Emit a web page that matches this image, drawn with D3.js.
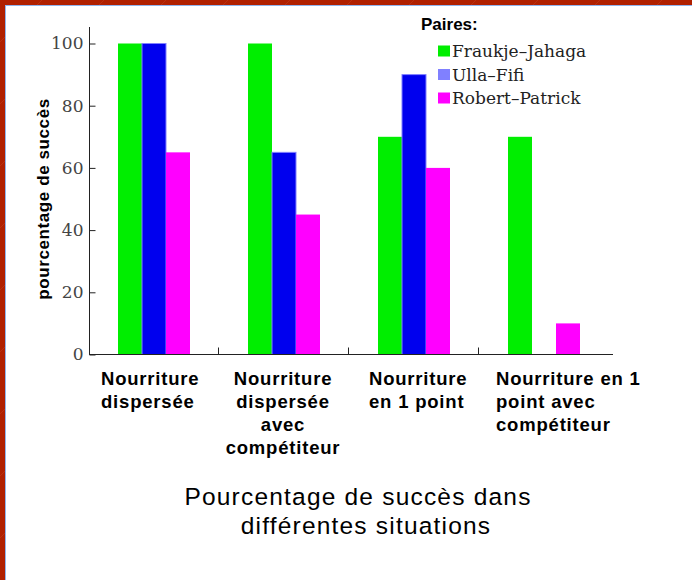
<!DOCTYPE html>
<html>
<head>
<meta charset="utf-8">
<script src="https://cdn.jsdelivr.net/npm/d3@7"></script>
<style>
  html, body { margin: 0; padding: 0; background: #b02000; }
  svg { display: block; }
</style>
</head>
<body>
<svg width="692" height="580"></svg>
<script>
var svg = d3.select("svg"),
    width = +svg.attr("width"),
    height = +svg.attr("height");

// data
var categories = ["disp", "dispComp", "point", "pointComp"];
var categoryLines = [
    ["Nourriture", "dispersée"],
    ["Nourriture", "dispersée", "avec", "compétiteur"],
    ["Nourriture", "en 1 point"],
    ["Nourriture en 1", "point avec", "compétiteur"]
];
var pairs = ["Fraukje–Jahaga", "Ulla–Fifi", "Robert–Patrick"];
var fraukjeJahaga = [100, 100, 70, 70];
var ullaFifi = [100, 65, 90, 0];
var robertPatrick = [65, 45, 60, 10];
var yTicks = [0, 20, 40, 60, 80, 100];

var series = [fraukjeJahaga, ullaFifi, robertPatrick];
var barColor = ["#00ee00", "#0000ee", "#ff00ff"];
var swatchColor = ["#00ee00", "#8080ff", "#ff00ff"];

// background frame
svg.append("rect")
    .attr("width", width).attr("height", height)
    .attr("fill", "#b02000");
var diag = svg.append("g").attr("stroke", "#c04020").attr("stroke-width", 1).attr("opacity", 0.5);
d3.range(-600, 800, 62).forEach(function(x0) {
    diag.append("line")
        .attr("x1", x0).attr("y1", height)
        .attr("x2", x0 + height).attr("y2", 0);
});
svg.append("rect")
    .attr("x", 5.5).attr("y", 5.5)
    .attr("width", width).attr("height", height)
    .attr("fill", "#ffffff")
    .attr("stroke", "#8fb4ee");

// scales
var x0 = d3.scaleBand().domain(categories).range([88, 608]);
var x1 = d3.scaleBand().domain(pairs).range([30, 102]);
var y = d3.scaleLinear().domain([0, 100]).range([354.5, 43.5]);

// bars
var groups = svg.append("g")
    .selectAll("g")
    .data(categories)
    .enter().append("g")
    .attr("transform", function(d) { return "translate(" + x0(d) + ",0)"; });

groups.selectAll("rect")
    .data(function(d, i) {
        return pairs.map(function(p, j) { return {pair: p, j: j, value: series[j][i]}; });
    })
    .enter().append("rect")
    .filter(function(d) { return d.value > 0; })
    .attr("x", function(d) { return x1(d.pair); })
    .attr("y", function(d) { return y(d.value); })
    .attr("width", x1.bandwidth())
    .attr("height", function(d) { return y(0) - y(d.value); })
    .attr("fill", function(d) { return barColor[d.j]; })
    .attr("stroke", function(d) { return d.j === 1 ? "#8080ff" : "none"; });

// y axis (ticks point inward)
var yAxis = svg.append("g")
    .attr("transform", "translate(89.5,0)")
    .call(d3.axisLeft(y).tickValues(yTicks).tickSize(-6).tickPadding(6));
yAxis.select(".domain").remove();
yAxis.selectAll(".tick line").attr("stroke", "#222");
yAxis.selectAll(".tick text")
    .attr("font-family", "DejaVu Serif")
    .attr("font-size", 17)
    .attr("fill", "#444");
yAxis.append("line")
    .attr("y1", 27).attr("y2", y(0))
    .attr("stroke", "#222");

svg.append("text")
    .attr("transform", "translate(49,199) rotate(-90)")
    .attr("text-anchor", "middle")
    .attr("font-family", "Liberation Sans")
    .attr("font-weight", "bold")
    .attr("font-size", 17)
    .attr("letter-spacing", 0.6)
    .text("pourcentage de succès");

// x axis with separators
svg.append("line")
    .attr("x1", 89).attr("x2", 613)
    .attr("y1", y(0)).attr("y2", y(0))
    .attr("stroke", "#222");
svg.append("g")
    .selectAll("line")
    .data(categories.slice(1))
    .enter().append("line")
    .attr("x1", function(d) { return x0(d) + 0.5; })
    .attr("x2", function(d) { return x0(d) + 0.5; })
    .attr("y1", y(0)).attr("y2", y(0) - 7)
    .attr("stroke", "#222");

// category labels
var labelOffset = [13, 65, 21, 18];
var labelAnchor = ["start", "middle", "start", "start"];
var labels = svg.append("g")
    .selectAll("text")
    .data(categories)
    .enter().append("text")
    .attr("x", function(d, i) { return x0(d) + labelOffset[i]; })
    .attr("y", 385)
    .attr("text-anchor", function(d, i) { return labelAnchor[i]; })
    .attr("font-family", "Liberation Sans")
    .attr("font-weight", "bold")
    .attr("font-size", 18.5)
    .attr("letter-spacing", 0.8);
labels.selectAll("tspan")
    .data(function(d, i) { return categoryLines[i]; })
    .enter().append("tspan")
    .attr("x", function() { return d3.select(this.parentNode).attr("x"); })
    .attr("dy", function(d, k) { return k === 0 ? 0 : 23; })
    .text(function(d) { return d; });

// legend
svg.append("text")
    .attr("x", 421).attr("y", 30)
    .attr("font-family", "Liberation Sans")
    .attr("font-weight", "bold")
    .attr("font-size", 17)
    .text("Paires:");
var legend = svg.append("g")
    .selectAll("g")
    .data(pairs)
    .enter().append("g")
    .attr("transform", function(d, i) { return "translate(438," + (45.5 + i * 23.5) + ")"; });
legend.append("rect")
    .attr("width", 12).attr("height", 11)
    .attr("fill", function(d, i) { return swatchColor[i]; });
legend.append("text")
    .attr("x", 14).attr("y", 11.5)
    .attr("font-family", "DejaVu Serif")
    .attr("font-size", 17)
    .attr("fill", "#222")
    .text(function(d) { return d; });

// title
var title = svg.append("text")
    .attr("text-anchor", "middle")
    .attr("font-family", "Liberation Sans")
    .attr("font-size", 24.5)
    .attr("letter-spacing", 1.2)
    .attr("fill", "#000");
title.append("tspan").attr("x", 358).attr("y", 505).text("Pourcentage de succès dans");
title.append("tspan").attr("x", 366).attr("y", 534).text("différentes situations");
</script>
</body>
</html>
